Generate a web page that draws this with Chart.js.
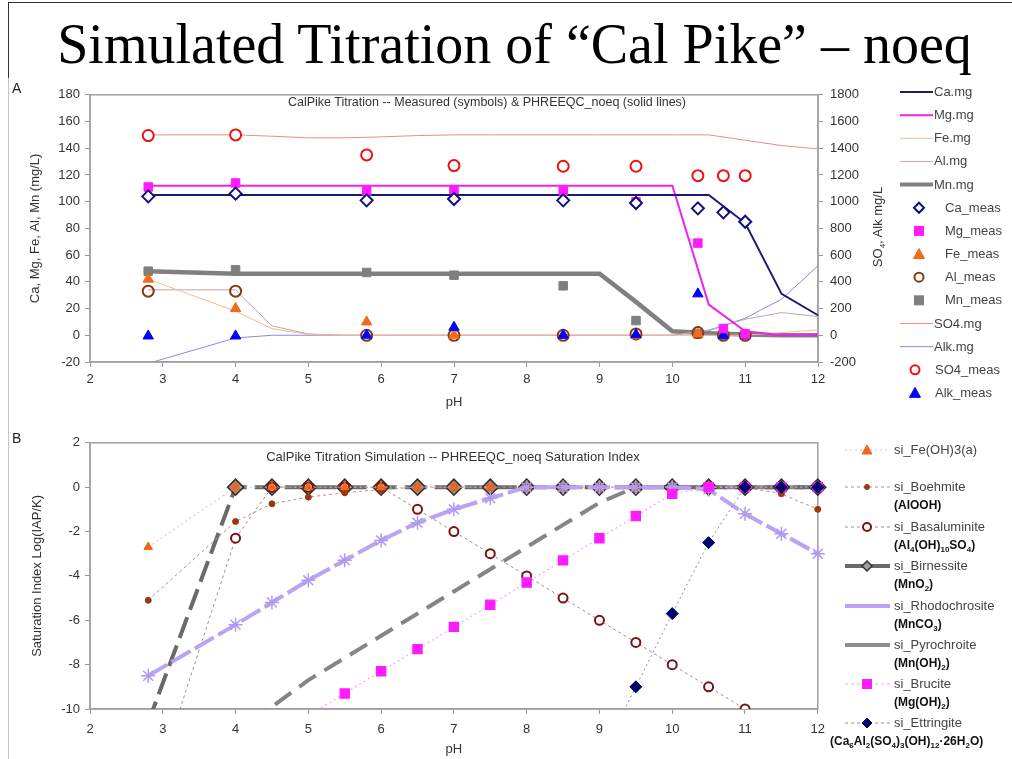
<!DOCTYPE html>
<html>
<head>
<meta charset="utf-8">
<title>Simulated Titration of Cal Pike - noeq</title>
<script src="https://cdn.jsdelivr.net/npm/chart.js@4.4.1/dist/chart.umd.min.js"></script>
<style>
  body { margin:0; width:1012px; height:759px; overflow:hidden; position:relative; background:#fff;
         font-family:"Liberation Sans", Arial, sans-serif; color:#333; }
  .abs { position:absolute; white-space:nowrap; }
  canvas { position:absolute; }
  #title { left:0; width:1029px; top:16px; text-align:center; color:#000;
           font:56px/56px "Liberation Serif", "Times New Roman", serif; }
  .lbl { position:absolute; white-space:nowrap; font-size:13px; line-height:16px; color:#444; }
  .f { position:absolute; white-space:nowrap; font-size:12px; line-height:14px; font-weight:bold; color:#111; }
  .f sub, .r sub { font-size:8px; line-height:0; }
</style>
</head>
<body>
<div class="abs" style="left:8px;top:2px;width:1004px;border-top:1.5px solid #333"></div>
<div class="abs" style="left:8px;top:2px;height:76px;border-left:1.5px solid #333"></div>
<div class="abs" style="left:8px;top:78px;height:681px;border-left:1px solid #c4c4c4"></div>
<div id="title" class="abs">Simulated Titration of “Cal Pike” – noeq</div>

<canvas id="chartA" width="890" height="330" style="left:0;top:80px"></canvas>
<canvas id="chartB" width="833" height="329" style="left:0;top:430px"></canvas>

<div class="abs" style="left:12px;top:80px;font-size:14px;color:#222">A</div>
<div class="abs" style="left:12px;top:430px;font-size:14px;color:#222">B</div>
<div class="abs" style="left:487px;top:102px;transform:translate(-50%,-50%);font-size:12.5px;color:#333">CalPike Titration -- Measured (symbols) &amp; PHREEQC_noeq (solid lines)</div>
<div class="abs" style="left:453px;top:456px;transform:translate(-50%,-50%);font-size:13px;color:#333">CalPike Titration Simulation -- PHREEQC_noeq Saturation Index</div>
<div class="abs r" style="left:877px;top:227px;transform:translate(-50%,-50%) rotate(-90deg);font-size:13px;color:#333">SO<sub>4</sub>, Alk mg/L</div>

<svg id="legSym" class="abs" width="1012" height="759" style="left:0;top:0;pointer-events:none"></svg>
<div id="legText"></div>

<script>
// ---- panel A: measured samples ----
const measPH = [2.8, 4, 5.8, 7, 8.5, 9.5, 10.35, 10.7, 11];
const caMeas = [104, 106, 101, 102, 101, 99, 95, 92, 85];
const mgMeas = [111, 114, 108, 109, 108, 100, 69, 5, 1];
const feMeas = [42, 20, 10, 0, 0, 0, 1, 0, 0];
const alMeas = [33, 33, 0, 0, 0, 1, 2, 0, 0];
const mnMeas = [48, 49, 47, 45, 37, 11, 1, 0, 0];
const so4Meas = [1495, 1500, 1350, 1270, 1265, 1265, 1195, 1195, 1195];
const alkMeas = [-5, -5, 0, 60, 0, 5, 310, 0, 0];

// ---- panel A: PHREEQC_noeq simulation ----
const simPH = [2.8, 4, 4.5, 5, 5.5, 6, 6.5, 7, 7.5, 8, 8.5, 9, 9.5, 10, 10.5, 11, 11.5, 12];
const caSim = [105, 105, 105, 105, 105, 105, 105, 105, 105, 105, 105, 105, 105, 105, 105, 84, 31, 15];
const mgSim = [112, 112, 112, 112, 112, 112, 112, 112, 112, 112, 112, 112, 112, 112, 23, 3, 0, 0];
const feSim = [42, 18, 5, 0.5, 0, 0, 0, 0, 0, 0, 0, 0, 0, 0, 0, 0, 2, 4];
const alSim = [34, 34, 7, 1, 0, 0, 0, 0, 0, 0, 0, 0, 0, 0, 4, 12, 17, 14];
const mnSim = [48, 46, 46, 46, 46, 46, 46, 46, 46, 46, 46, 46, 25, 3, 1.5, 0.5, 0, 0];
const so4Sim = [1500, 1500, 1490, 1478, 1478, 1485, 1495, 1500, 1500, 1500, 1500, 1500, 1500, 1500, 1500, 1460, 1420, 1395];
const alkSim = [-210, -20, 0, 0, 0, 0, 0, 0, 0, 0, 0, 0, 0, 0, 34, 128, 270, 520];

// ---- panel B: saturation indices ----
const siPH = simPH;
const siFeOH3 = [-2.7, 0, 0, 0, 0, 0, 0, 0, 0, null, null, null, null, null, null, null, null, null];
const siBoehmite = [-5.1, -1.55, -0.75, -0.45, -0.25, -0.1, 0, 0, 0, 0, 0, 0, 0, 0, 0, 0, -0.3, -1.0];
const siBasaluminite = [-14.4, -2.3, 0, 0, 0, 0, -1.0, -2.0, -3.0, -4.0, -5.0, -6.0, -7.0, -8.0, -9.0, -10.0, -11.0, -12.0];
const siBirnessite = [-10.6, 0, 0, 0, 0, 0, 0, 0, 0, 0, 0, 0, 0, 0, 0, 0, 0, 0];
const siRhodochrosite = [-8.5, -6.2, -5.2, -4.2, -3.3, -2.4, -1.6, -1.0, -0.5, 0, 0, 0, 0, 0, -0.1, -1.2, -2.1, -3.0];
const siPyrochroite = [-13.4, -10.8, -9.9, -8.7, -7.7, -6.7, -5.7, -4.7, -3.7, -2.7, -1.7, -0.7, 0, 0, 0, 0, 0, 0];
const siBrucite = [-14.5, -12.3, -11.3, -10.3, -9.3, -8.3, -7.3, -6.3, -5.3, -4.3, -3.3, -2.3, -1.3, -0.3, 0, 0, 0, 0];
const siEttringite = [null, null, null, null, null, null, null, null, null, null, null, -12.3, -9.0, -5.7, -2.5, 0, 0, 0];

Chart.defaults.font.family = '"Liberation Sans", Arial, sans-serif';
Chart.defaults.font.size = 13;
Chart.defaults.color = '#333';

const P = (xs, ys) => xs.map((x, i) => ({x: x, y: ys[i]}));
const CLIP = {left: 14, top: 14, right: 14, bottom: 0};
const plain = v => String(v);

const frame = {
  id: 'frame',
  beforeDatasetsDraw(chart) {
    const a = chart.chartArea, ctx = chart.ctx;
    ctx.save();
    ctx.strokeStyle = '#a0a0a0';
    ctx.lineWidth = 1.5;
    ctx.strokeRect(a.left, a.top, a.right - a.left, a.bottom - a.top);
    ctx.restore();
  }
};

function xAxis(h, pad, titlePad) {
  return {
    type: 'linear', min: 2, max: 12,
    ticks: {stepSize: 1, padding: pad, color: '#333', callback: plain},
    grid: {drawOnChartArea: false, tickLength: 5, color: '#999'},
    border: {color: '#a0a0a0', width: 1.5},
    title: {display: true, text: 'pH', color: '#333', padding: {top: 0, bottom: titlePad}},
    afterFit(s) { s.height = h; }
  };
}

function simLine(label, ys, color, w, axis, order) {
  return {label, data: P(simPH, ys), borderColor: color, backgroundColor: color, borderWidth: w,
          pointRadius: 0, yAxisID: axis, order: order, clip: CLIP};
}
function meas(label, ys, style, r, fill, stroke, sw, axis) {
  return {label, data: P(measPH, ys), showLine: false, pointStyle: style, pointRadius: r,
          pointBackgroundColor: fill, pointBorderColor: stroke, pointBorderWidth: sw,
          yAxisID: axis, order: 0, clip: CLIP};
}

new Chart(document.getElementById('chartA'), {
  type: 'line',
  data: {
    datasets: [
      meas('SO4_meas', so4Meas, 'circle', 5.5, '#fff', '#ee1111', 2, 'y2'),
      meas('Ca_meas', caMeas, 'rectRot', 6, '#fff', '#10107a', 2, 'y'),
      meas('Mg_meas', mgMeas, 'rect', 6, '#ff1aff', '#ff1aff', 1, 'y'),
      meas('Alk_meas', alkMeas, 'triangle', 6, '#0000ff', '#0000ff', 1, 'y2'),
      meas('Fe_meas', feMeas, 'triangle', 6, '#f26a1b', '#f26a1b', 1, 'y'),
      meas('Al_meas', alMeas, 'circle', 5.5, 'rgba(255,255,255,0)', '#8b3a10', 2, 'y'),
      meas('Mn_meas', mnMeas, 'rect', 6, '#7f7f7f', '#7f7f7f', 1, 'y'),
      simLine('Ca.mg', caSim, '#1a1a70', 2, 'y', 1),
      simLine('Mg.mg', mgSim, '#ee22ee', 2, 'y', 1),
      simLine('Fe.mg', feSim, '#f3b98f', 1, 'y', 1),
      simLine('Al.mg', alSim, '#c7a3a3', 1, 'y', 1),
      simLine('SO4.mg', so4Sim, '#f08a8a', 1, 'y2', 1),
      simLine('Alk.mg', alkSim, '#8a8ae0', 1, 'y2', 1),
      simLine('Mn.mg', mnSim, '#808080', 4.5, 'y', 2)
    ]
  },
  options: {
    responsive: false, animation: false, devicePixelRatio: 1,
    layout: {padding: {top: 11, left: 0, right: 0, bottom: 0}},
    plugins: {legend: {display: false}, tooltip: {enabled: false}},
    elements: {line: {tension: 0}},
    scales: {
      x: xAxis(48, 5, 0),
      y: {
        position: 'left', min: -20, max: 180,
        ticks: {stepSize: 20, padding: 5, color: '#333', callback: plain},
        grid: {drawOnChartArea: false, tickLength: 5, color: '#999'},
        border: {color: '#a0a0a0', width: 1.5},
        title: {display: true, text: 'Ca, Mg, Fe, Al, Mn (mg/L)', color: '#333', padding: {top: 28, bottom: 0}},
        afterFit(s) { s.width = 90; }
      },
      y2: {
        position: 'right', min: -200, max: 1800,
        ticks: {stepSize: 200, padding: 7, color: '#333', callback: plain},
        grid: {drawOnChartArea: false, tickLength: 5, color: '#999'},
        border: {color: '#a0a0a0', width: 1.5},
        afterFit(s) { s.width = 72; }
      }
    }
  },
  plugins: [frame]
});

function si(label, ys, o) {
  return Object.assign({label, data: P(siPH, ys), borderWidth: 1, spanGaps: false, clip: CLIP}, o);
}

new Chart(document.getElementById('chartB'), {
  type: 'line',
  data: {
    datasets: [
      si('si_Ettringite', siEttringite, {borderColor: '#8c8ca8', borderDash: [2, 3], pointStyle: 'rectRot',
         pointRadius: 6, pointBackgroundColor: '#00006e', pointBorderColor: '#00006e', order: 0}),
      si('si_Brucite', siBrucite, {borderColor: '#ff9cff', borderWidth: 1.2, borderDash: [2, 3], pointStyle: 'rect',
         pointRadius: 6.5, pointBackgroundColor: '#ff1aff', pointBorderColor: '#ff1aff', order: 1}),
      si('si_Rhodochrosite', siRhodochrosite, {borderColor: '#b9a3f2', borderWidth: 4, borderDash: [22, 5],
         pointStyle: 'star', pointRadius: 7, pointBorderColor: '#b09af0', pointBorderWidth: 1.5, order: 2}),
      si('si_Fe(OH)3(a)', siFeOH3, {borderColor: '#c0c0c0', borderDash: [2, 3], pointStyle: 'triangle',
         pointRadius: 5, pointBackgroundColor: '#f2661a', pointBorderColor: '#f2661a', order: 3}),
      si('si_Boehmite', siBoehmite, {borderColor: '#b89080', borderDash: [3, 3], pointStyle: 'circle',
         pointRadius: 3, pointBackgroundColor: '#9a3812', pointBorderColor: '#9a3812', order: 4}),
      si('si_Basaluminite', siBasaluminite, {borderColor: '#a88c8c', borderDash: [3, 3], pointStyle: 'circle',
         pointRadius: 4.5, pointBackgroundColor: '#fff', pointBorderColor: '#7a1212', pointBorderWidth: 2, order: 5}),
      si('si_Birnessite', siBirnessite, {borderColor: '#6a6a6a', borderWidth: 4, borderDash: [22, 8], pointStyle: 'rectRot',
         pointRadius: 8, pointBackgroundColor: '#9a8a80', pointBorderColor: '#3a2a20', pointBorderWidth: 1.5, order: 6}),
      si('si_Pyrochroite', siPyrochroite, {borderColor: '#858585', borderWidth: 4, borderDash: [20, 10],
         pointRadius: 0, order: 7})
    ]
  },
  options: {
    responsive: false, animation: false, devicePixelRatio: 1,
    layout: {padding: {top: 11, left: 0, right: 0, bottom: 0}},
    plugins: {legend: {display: false}, tooltip: {enabled: false}},
    elements: {line: {tension: 0}},
    scales: {
      x: xAxis(50, 8, 2),
      y: {
        position: 'left', min: -10, max: 2,
        ticks: {stepSize: 2, padding: 5, color: '#333', callback: plain},
        grid: {drawOnChartArea: false, tickLength: 5, color: '#999'},
        border: {color: '#a0a0a0', width: 1.5},
        title: {display: true, text: 'Saturation Index Log(IAP/K)', color: '#333', padding: {top: 30, bottom: 0}},
        afterFit(s) { s.width = 90; }
      }
    }
  },
  plugins: [frame]
});

// ---- legends (drawn as svg symbols + html text) ----
function marker(m, cx, cy) {
  const r = m.r, f = m.fill, s = m.stroke, w = m.sw || 1;
  const st = `fill="${f}" stroke="${s}" stroke-width="${w}"`;
  if (m.shape === 'diamond') return `<polygon points="${cx},${cy - r} ${cx + r},${cy} ${cx},${cy + r} ${cx - r},${cy}" ${st}/>`;
  if (m.shape === 'square') return `<rect x="${cx - r}" y="${cy - r}" width="${2 * r}" height="${2 * r}" ${st}/>`;
  if (m.shape === 'triangle') return `<polygon points="${cx},${cy - r} ${cx + r},${cy + r * 0.8} ${cx - r},${cy + r * 0.8}" ${st}/>`;
  if (m.shape === 'circle') return `<circle cx="${cx}" cy="${cy}" r="${r}" ${st}/>`;
  return '';
}
function lineSvg(x1, x2, y, c, w, dash) {
  return `<line x1="${x1}" x2="${x2}" y1="${y}" y2="${y}" stroke="${c}" stroke-width="${w}"${dash ? ` stroke-dasharray="${dash}"` : ''}/>`;
}

const legA = [
  {t: 'Ca.mg', line: '#1a1a70', lw: 2},
  {t: 'Mg.mg', line: '#ee22ee', lw: 2},
  {t: 'Fe.mg', line: '#f3b98f', lw: 1},
  {t: 'Al.mg', line: '#c7a3a3', lw: 1},
  {t: 'Mn.mg', line: '#808080', lw: 4},
  {t: 'Ca_meas', m: {shape: 'diamond', r: 5, fill: '#fff', stroke: '#10107a', sw: 2}},
  {t: 'Mg_meas', m: {shape: 'square', r: 4.5, fill: '#ff1aff', stroke: '#ff1aff'}},
  {t: 'Fe_meas', m: {shape: 'triangle', r: 5.5, fill: '#f26a1b', stroke: '#f26a1b'}},
  {t: 'Al_meas', m: {shape: 'circle', r: 4.5, fill: '#fff', stroke: '#8b3a10', sw: 2}},
  {t: 'Mn_meas', m: {shape: 'square', r: 4.5, fill: '#7f7f7f', stroke: '#7f7f7f'}},
  {t: 'SO4.mg', line: '#f08a8a', lw: 1},
  {t: 'Alk.mg', line: '#8a8ae0', lw: 1},
  {t: 'SO4_meas', m: {shape: 'circle', r: 4.5, fill: '#fff', stroke: '#ee1111', sw: 2}, alt: true},
  {t: 'Alk_meas', m: {shape: 'triangle', r: 5.5, fill: '#0000ff', stroke: '#0000ff'}, alt: true}
];

const legB = [
  {t: 'si_Fe(OH)3(a)', y: 450, line: '#d0d0d0', lw: 1, dash: '2,3',
   m: {shape: 'triangle', r: 5, fill: '#f2661a', stroke: '#f2661a'}},
  {t: 'si_Boehmite', y: 487, f: '(AlOOH)', line: '#b89080', lw: 1, dash: '3,3',
   m: {shape: 'circle', r: 2.5, fill: '#9a3812', stroke: '#9a3812'}},
  {t: 'si_Basaluminite', y: 527, f: '(Al<sub>4</sub>(OH)<sub>10</sub>SO<sub>4</sub>)', line: '#a88c8c', lw: 1, dash: '3,3',
   m: {shape: 'circle', r: 4, fill: '#fff', stroke: '#7a1212', sw: 2}},
  {t: 'si_Birnessite', y: 566, f: '(MnO<sub>2</sub>)', line: '#6a6a6a', lw: 4,
   m: {shape: 'diamond', r: 5, fill: '#a0a0a0', stroke: '#333', sw: 1.5}},
  {t: 'si_Rhodochrosite', y: 606, f: '(MnCO<sub>3</sub>)', line: '#b9a3f2', lw: 4},
  {t: 'si_Pyrochroite', y: 645, f: '(Mn(OH)<sub>2</sub>)', line: '#8e8e8e', lw: 4},
  {t: 'si_Brucite', y: 684, f: '(Mg(OH)<sub>2</sub>)', line: '#ff9cff', lw: 1, dash: '3,3',
   m: {shape: 'square', r: 4.5, fill: '#ff1aff', stroke: '#ff1aff'}},
  {t: 'si_Ettringite', y: 723, f: '(Ca<sub>6</sub>Al<sub>2</sub>(SO<sub>4</sub>)<sub>3</sub>(OH)<sub>12</sub>·26H<sub>2</sub>O)', fx: 830,
   line: '#8c8ca8', lw: 1, dash: '3,3', m: {shape: 'diamond', r: 5, fill: '#00006e', stroke: '#00006e'}}
];

let svg = '', html = '';
legA.forEach((e, i) => {
  const y = 92 + i * 23.15;
  let tx;
  if (e.line) {
    svg += lineSvg(900, 933, y, e.line, e.lw);
    tx = 934;
  } else {
    svg += marker(e.m, e.alt ? 915 : 919, y);
    tx = e.alt ? 935 : 945;
  }
  html += `<div class="lbl" style="left:${tx}px;top:${y - 8}px">${e.t}</div>`;
});
legB.forEach(e => {
  svg += lineSvg(845, 890, e.y, e.line, e.lw, e.dash);
  if (e.m) svg += marker(e.m, 867, e.y);
  html += `<div class="lbl" style="left:894px;top:${e.y - 8}px">${e.t}</div>`;
  if (e.f) html += `<div class="f" style="left:${e.fx || 894}px;top:${e.y + 11}px">${e.f}</div>`;
});
document.getElementById('legSym').innerHTML = svg;
document.getElementById('legText').innerHTML = html;
</script>
</body>
</html>
